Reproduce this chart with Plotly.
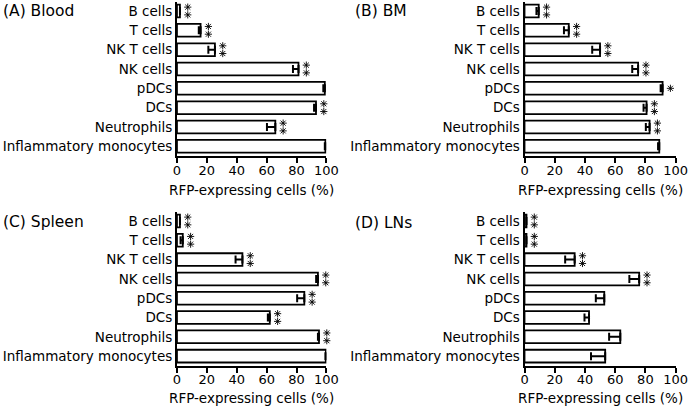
import plotly.graph_objects as go

categories = ["B cells", "T cells", "NK T cells", "NK cells", "pDCs", "DCs",
              "Neutrophils", "Inflammatory monocytes"]

blood = [2.0, 15.8, 25.4, 81.3, 98.9, 93.0, 65.8, 99.3]
blood_err = [0.0, 1.2, 4.4, 3.7, 1.0, 1.3, 5.6, 0.4]
blood_sig = [2, 2, 2, 2, 0, 2, 2, 0]

bm = [9.4, 29.3, 50.0, 75.2, 91.4, 80.8, 82.8, 89.2]
bm_err = [1.5, 3.2, 5.2, 3.9, 1.3, 2.0, 2.5, 0.8]
bm_sig = [2, 2, 2, 2, 1, 2, 2, 0]

spleen = [2.0, 3.9, 43.8, 94.3, 85.2, 62.1, 95.0, 99.6]
spleen_err = [0.0, 1.5, 4.6, 1.2, 4.8, 1.3, 0.7, 0.3]
spleen_sig = [2, 2, 2, 2, 2, 2, 2, 0]

lns = [1.3, 1.3, 33.2, 75.9, 52.8, 42.7, 63.4, 53.4]
lns_err = [0.0, 0.0, 6.3, 6.5, 5.6, 3.0, 7.4, 9.4]
lns_sig = [2, 2, 2, 2, 0, 0, 0, 0]

panel_titles = ["(A) Blood", "(B) BM", "(C) Spleen", "(D) LNs"]
x_ticks = [0, 20, 40, 60, 80, 100]
x_title = "RFP-expressing cells (%)"

W, H = 700, 409
FONT = "DejaVu Sans"

# pixel geometry of panels: (x_left, x_right, y_top, y_bottom)
panels = [
    (177.0, 330.0, 2.1, 156.0),
    (532.7, 687.3, 2.1, 156.0),
    (177.0, 330.0, 212.1, 365.8),
    (532.7, 687.3, 212.1, 365.8),
]
title_pos = [(-3, 11), (357, 11), (-3, 222), (357, 223)]
xtitle_y = [190, 190, 398, 398]
EXTRA = 12  # px of room to the right of each panel for the asterisks

series = [(blood, blood_err, blood_sig), (bm, bm_err, bm_sig),
          (spleen, spleen_err, spleen_sig), (lns, lns_err, lns_sig)]

idx = list(range(len(categories)))
fig = go.Figure()
annotations = []
layout = {}
for i, ((vals, errs, sigs), (x0, x1, y0, y1)) in enumerate(zip(series, panels)):
    n = "" if i == 0 else str(i + 1)
    ns = str(i + 5)
    fig.add_trace(go.Bar(
        x=vals, y=idx, orientation="h",
        xaxis="x" + n, yaxis="y" + n,
        width=0.66, hoverinfo="skip",
        marker=dict(color="white", line=dict(color="black", width=1.8)),
        error_x=dict(type="data", symmetric=False, array=[0] * len(errs),
                     arrayminus=errs, color="black", thickness=2, width=4),
        showlegend=False,
    ))
    # significance asterisks, placed ~8 px right of the bar end, drawn on a
    # hidden x axis with the same scale that extends a little further right
    units_per_px = 100.0 / (x1 - x0)
    sx, sy = [], []
    for k, (v, s) in enumerate(zip(vals, sigs)):
        offs = {2: [-0.2, 0.2], 1: [0.0]}.get(s, [])
        for o in offs:
            sx.append(v + 8 * units_per_px)
            sy.append(k + o)
    fig.add_trace(go.Scatter(
        x=sx, y=sy, mode="markers", xaxis="x" + ns, yaxis="y" + n,
        hoverinfo="skip", showlegend=False,
        marker=dict(symbol="asterisk-open", size=6, color="black",
                    line=dict(color="black", width=0.9)),
    ))
    layout["xaxis" + n] = dict(
        domain=[x0 / W, x1 / W], anchor="y" + n, range=[0, 100],
        tickvals=x_ticks, ticks="outside", ticklen=5, tickwidth=2,
        tickcolor="black", showline=True, linewidth=2, linecolor="black",
        showgrid=False, zeroline=False, ticklabelstandoff=-4,
        tickfont=dict(family=FONT, size=13, color="black"),
    )
    layout["xaxis" + ns] = dict(
        domain=[x0 / W, (x1 + EXTRA) / W], anchor="y" + n,
        range=[0, 100 + EXTRA * units_per_px], visible=False,
        showgrid=False, zeroline=False,
    )
    layout["yaxis" + n] = dict(
        domain=[1 - y1 / H, 1 - y0 / H], anchor="x" + n,
        tickvals=idx, ticktext=categories,
        range=[7.5, -0.46], showline=True, linewidth=2, linecolor="black",
        ticks="", showgrid=False, zeroline=False,
        tickfont=dict(family=FONT, size=13.5, color="black"),
    )
    tx, ty = title_pos[i]
    annotations.append(dict(
        x=tx / W, y=1 - ty / H, xref="paper", yref="paper", text=panel_titles[i],
        showarrow=False, xanchor="left", yanchor="middle",
        font=dict(family=FONT, size=15.5, color="black"),
    ))
    annotations.append(dict(
        x=(x0 + x1) / 2 / W, y=1 - xtitle_y[i] / H, xref="paper", yref="paper",
        text=x_title, showarrow=False, xanchor="center", yanchor="middle",
        font=dict(family=FONT, size=13.5, color="black"),
    ))

fig.update_layout(
    width=W, height=H, margin=dict(l=0, r=0, t=0, b=0),
    paper_bgcolor="white", plot_bgcolor="rgba(0,0,0,0)",
    annotations=annotations, bargap=0.3, **layout,
)
fig.write_html("out.html", config={"displayModeBar": False},
               post_script="document.body.style.margin='0';"
                           "document.body.style.overflow='hidden';")
